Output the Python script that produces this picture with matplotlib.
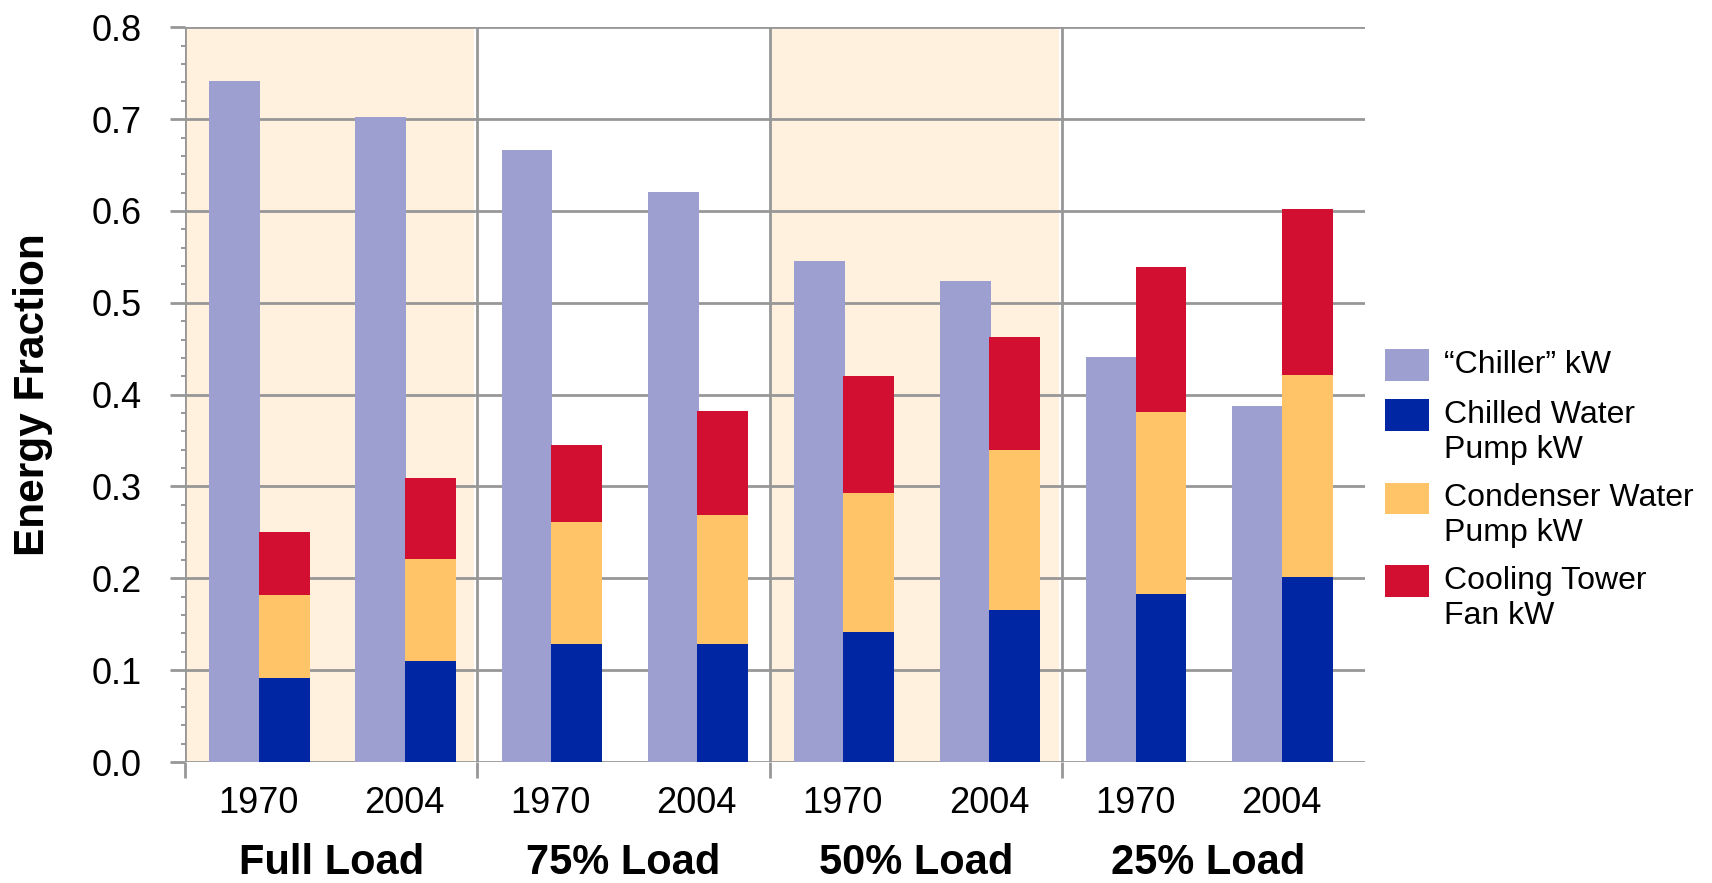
import matplotlib
matplotlib.use("Agg")
import matplotlib.pyplot as plt
import matplotlib.transforms as mtransforms
from matplotlib.patches import Rectangle
from matplotlib.ticker import (FixedLocator, MultipleLocator, NullFormatter,
                               FixedFormatter, FormatStrFormatter)
import numpy as np

plt.rcParams["font.family"] = ["Liberation Sans", "DejaVu Sans"]

# ---- data -------------------------------------------------------------
load_groups = ["Full Load", "75% Load", "50% Load", "25% Load"]
years = ["1970", "2004"]
series_names = ["\u201cChiller\u201d kW", "Chilled Water\nPump kW",
                "Condenser Water\nPump kW", "Cooling Tower\nFan kW"]

# one value per (load, year): Full-1970, Full-2004, 75-1970, 75-2004, ...
chiller_kw = [0.741, 0.702, 0.666, 0.621, 0.545, 0.524, 0.441, 0.388]
chw_pump_kw = [0.092, 0.110, 0.128, 0.128, 0.142, 0.166, 0.183, 0.201]
cdw_pump_kw = [0.090, 0.111, 0.133, 0.141, 0.151, 0.174, 0.198, 0.220]
tower_fan_kw = [0.068, 0.088, 0.084, 0.113, 0.127, 0.123, 0.158, 0.181]

colors = ["#9d9fd0", "#0026a3", "#ffc468", "#d20f31"]
shade = "#fff1de"
grid_c = "#979797"

# ---- figure -----------------------------------------------------------
W, H = 1712, 883
fig = plt.figure(figsize=(W / 100, H / 100), dpi=100)
ax = fig.add_axes([185 / W, (H - 762) / H, 1180 / W, (762 - 27.3) / H])

n = len(chiller_kw)
x = np.arange(n)
slot_px = 146.15
ax.set_xlim(-0.5, -0.5 + 1180 / slot_px)
ax.set_ylim(0, 0.8)

# shaded load blocks (Full Load and 50% Load)
for g in (0, 2):
    ax.axvspan(2 * g - 0.5, 2 * g + 1.5 - 3 / slot_px, color=shade, lw=0, zorder=0)

bw = 0.348
ax.bar(x - 0.16, chiller_kw, width=bw, color=colors[0], lw=0, zorder=2)
bottom = np.zeros(n)
for vals, c in zip([chw_pump_kw, cdw_pump_kw, tower_fan_kw], colors[1:]):
    ax.bar(x + 0.178, vals, width=bw, bottom=bottom, color=c, lw=0, zorder=2)
    bottom += np.array(vals)

# grid & ticks
ax.set_axisbelow(True)
for s in ax.spines.values():
    s.set_visible(False)

ax.yaxis.set_major_locator(MultipleLocator(0.1))
ax.yaxis.set_minor_locator(MultipleLocator(0.02))
ax.yaxis.set_major_formatter(FormatStrFormatter("%.1f"))
ax.grid(axis="y", which="major", color=grid_c, lw=2.0)
ax.tick_params(axis="y", which="major", length=10.8, width=2.0, color=grid_c,
               pad=20.5, labelsize=26)
ax.tick_params(axis="y", which="minor", length=2.6, width=1.4, color=grid_c)

dividers = [2 * g - 0.5 for g in range(len(load_groups))]
ax.xaxis.set_major_locator(FixedLocator(dividers))
ax.xaxis.set_major_formatter(NullFormatter())
ax.xaxis.set_minor_locator(FixedLocator(list(x)))
ax.xaxis.set_minor_formatter(FixedFormatter(years * len(load_groups)))
ax.grid(axis="x", which="major", color=grid_c, lw=2.0)
ax.tick_params(axis="x", which="major", length=11.5, width=2.0, color=grid_c)
ax.tick_params(axis="x", which="minor", length=0, pad=17, labelsize=26)

# load group labels
trans = mtransforms.blended_transform_factory(ax.transData, fig.transFigure)
for g, name in enumerate(load_groups):
    fig.text(2 * g + 0.5, 9 / H, name, transform=trans, ha="center",
             va="baseline", fontsize=30, fontweight="bold")

fig.text(33 / W, 1 - 394.7 / H, "Energy Fraction", rotation=90, ha="center",
         va="center", fontsize=30.5, fontweight="bold")

# legend
patch_tops = [349.3, 399.3, 482.7, 565.3]
for top, name, c in zip(patch_tops, series_names, colors):
    fig.add_artist(Rectangle((1385.3 / W, 1 - (top + 31.4) / H), 43.4 / W, 31.4 / H,
                             transform=fig.transFigure, color=c, lw=0))
    for k, line in enumerate(name.split("\n")):
        base = top + 23.5 + 35 * k
        fig.text(1444 / W, 1 - base / H, line, ha="left", va="baseline", fontsize=23)

fig.savefig("out.png", dpi=100)
